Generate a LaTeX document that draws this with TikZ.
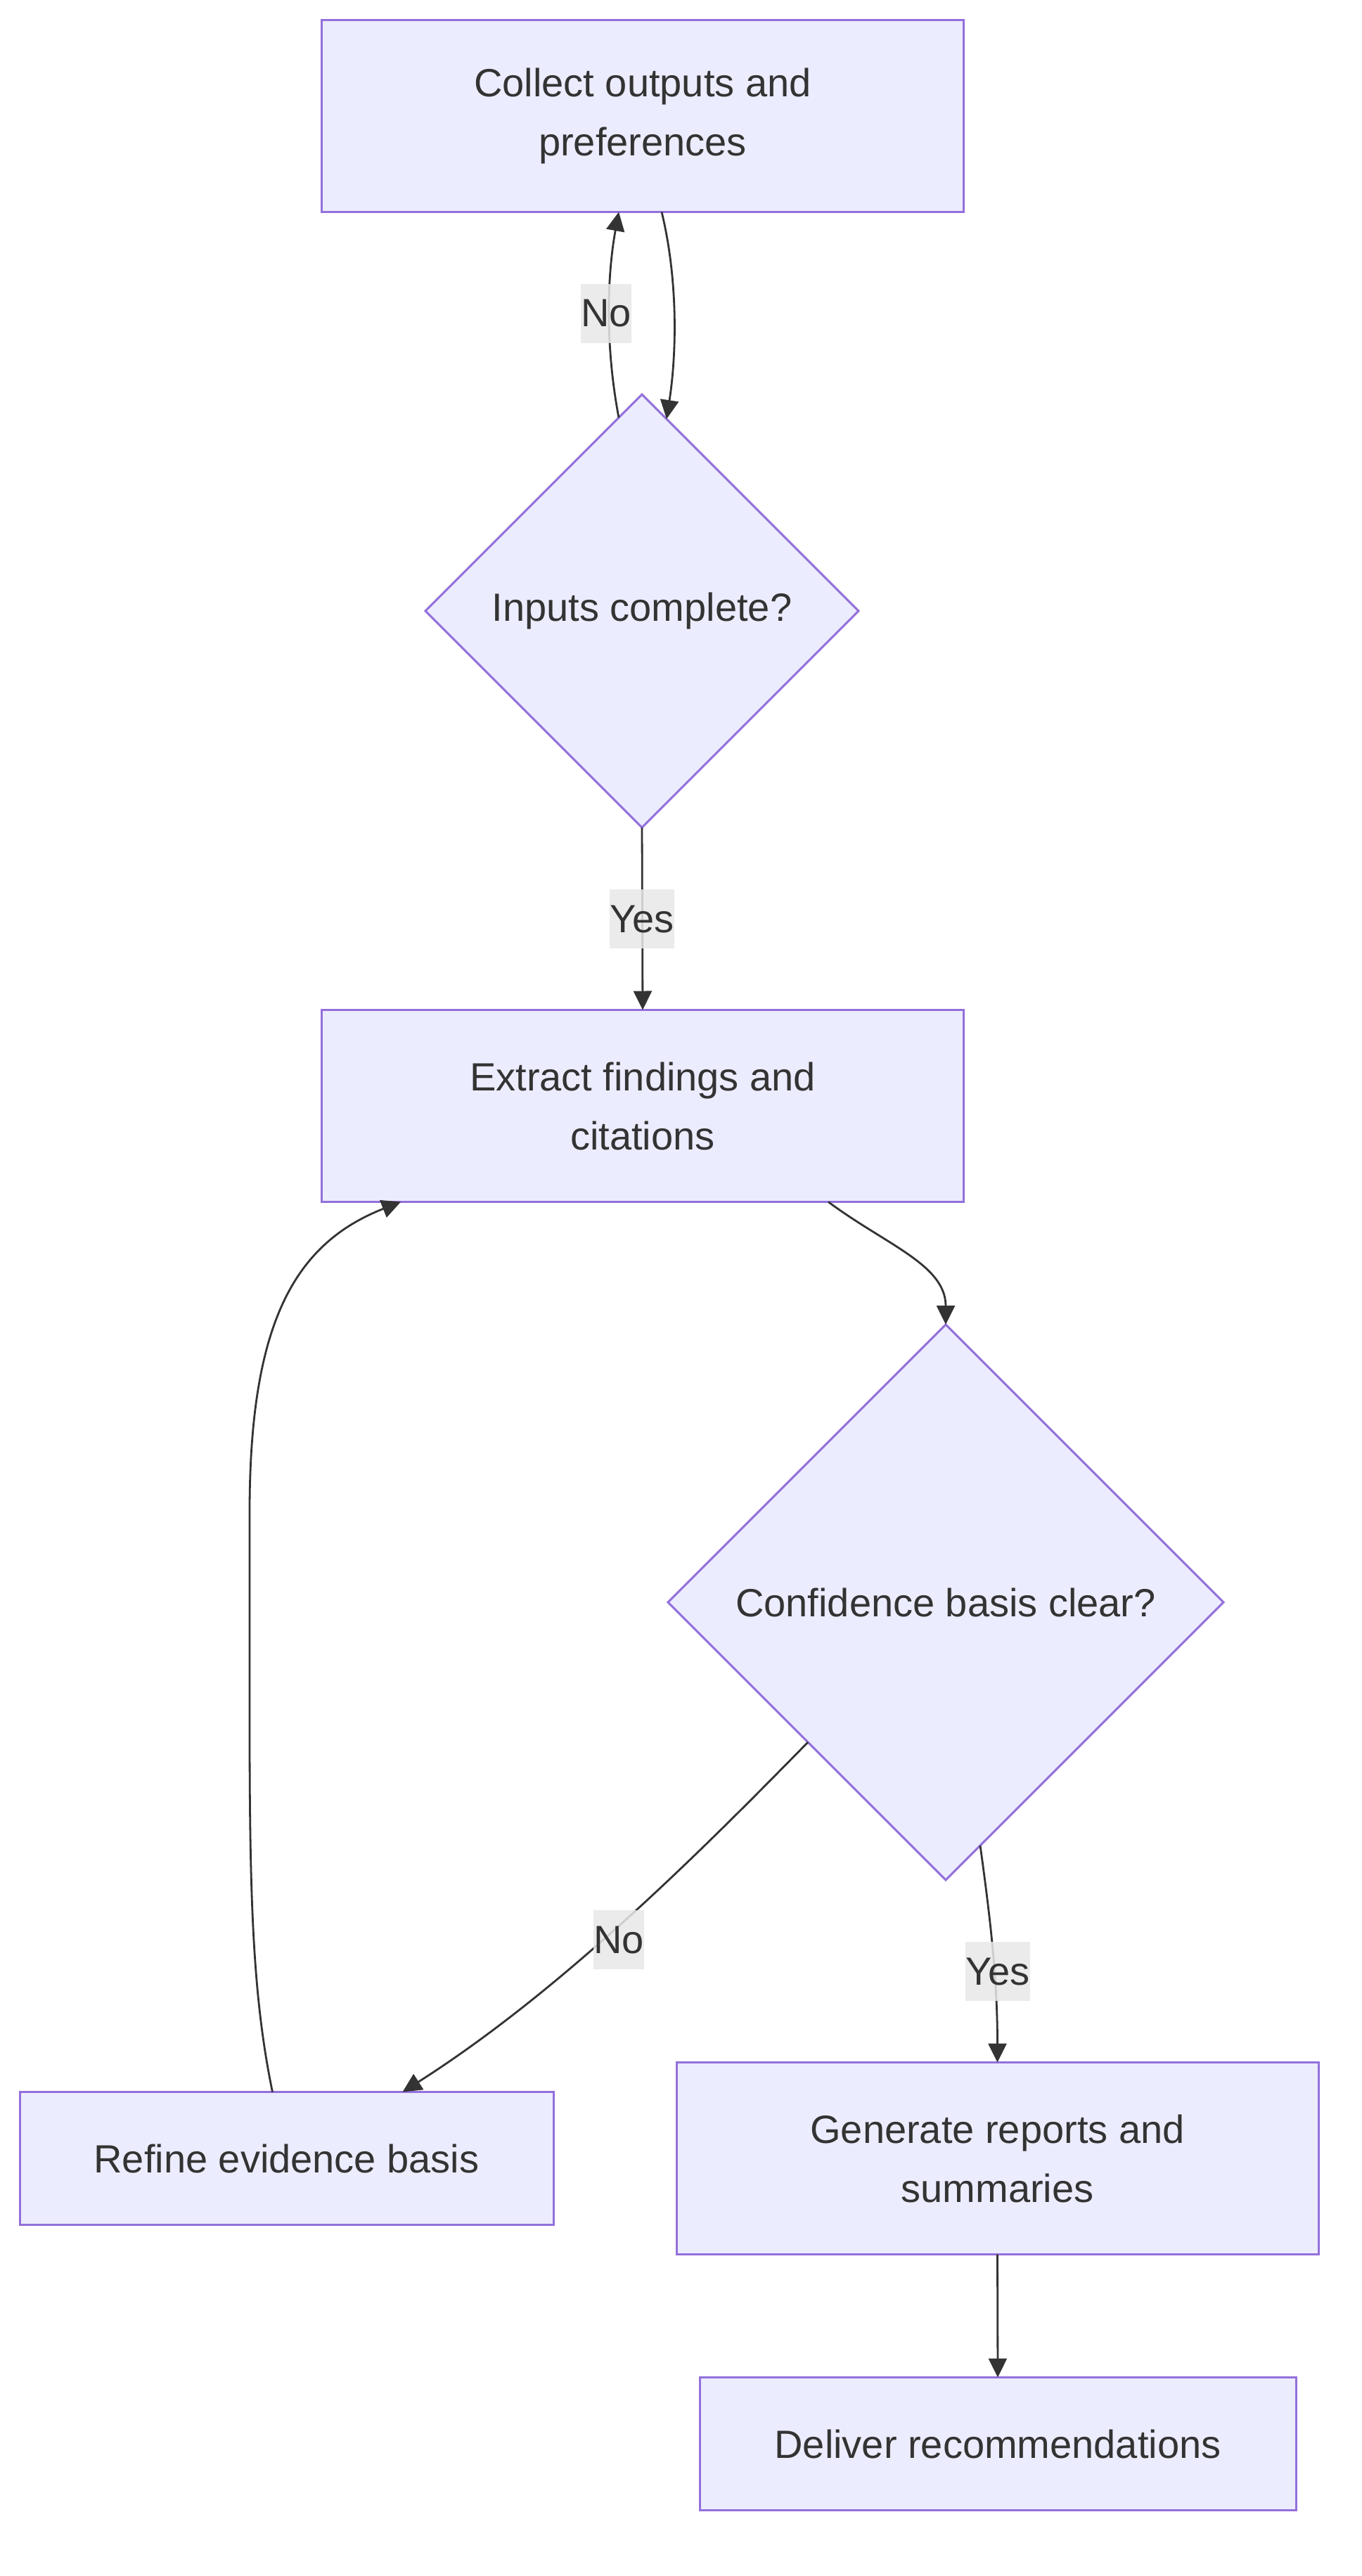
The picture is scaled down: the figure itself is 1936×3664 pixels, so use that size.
\documentclass[tikz,border=0pt]{standalone}
\usepackage{fontspec}
\setmainfont{Liberation Sans}
\usetikzlibrary{arrows.meta,shapes.geometric}
\definecolor{nodefill}{HTML}{ECECFF}
\definecolor{nodeline}{HTML}{9370DB}
\definecolor{ink}{HTML}{333333}
\definecolor{lblbg}{HTML}{E8E8E8}
\begin{document}
\begin{tikzpicture}[x=1pt,y=-1pt,
  every node/.style={font=\fontsize{56}{84}\selectfont, text=ink},
  box/.style={draw=nodeline, fill=nodefill, line width=3pt, rectangle, inner sep=0pt, outer sep=0pt, align=center},
  dec/.style={draw=nodeline, fill=nodefill, line width=3pt, diamond, aspect=1, inner sep=0pt, outer sep=0pt, align=center},
  conn/.style={draw=ink, line width=2.8pt, -{Triangle[length=27pt,width=26pt]}},
  lbl/.style={fill=lblbg, fill opacity=0.85, text opacity=1, inner sep=0pt, minimum height=84pt}]
\fill[white] (0,0) rectangle (1936,3664);
\useasboundingbox (0,0) rectangle (1936,3664);

\node[box, minimum width=913pt, minimum height=273pt] (b1) at (914,165) {Collect outputs and\\preferences};
\node[dec, minimum width=616pt, minimum height=616pt] (d1) at (913,869) {Inputs complete?};
\node[box, minimum width=913pt, minimum height=273pt] (b2) at (914,1573) {Extract findings and\\citations};
\node[dec, minimum width=790pt, minimum height=790pt] (d2) at (1345,2279) {Confidence basis clear?};
\node[box, minimum width=759pt, minimum height=189pt] (b3) at (407.5,3070) {Refine evidence basis};
\node[box, minimum width=913pt, minimum height=273pt] (b4) at (1418.5,3070) {Generate reports and\\summaries};
\node[box, minimum width=848pt, minimum height=189pt] (b5) at (1419,3476) {Deliver recommendations};

\coordinate (r1) at (355,2450);
\coordinate (r2) at (355,2150);

% Box1 -> D1
\draw[conn] ([xshift=27pt]b1.south) .. controls +(24,99) and +(14,-91) .. ([xshift=35pt,yshift=-35pt]d1.north);
% D1 -> Box1 (No)
\draw[conn] ([xshift=-33pt,yshift=-33pt]d1.north) .. controls +(-18,-94) and +(-18,99) .. ([xshift=-34pt]b1.south);
% D1 -> Box2 (Yes)
\draw[conn] (d1.south) -- (b2.north);
% Box2 -> D2
\draw[conn] ([xshift=264pt]b2.south) .. controls +(82,61) and +(0,-85) .. (d2.north);
% D2 -> Box3 (No)
\draw[conn] ([xshift=199pt,yshift=-199pt]d2.west) .. controls +(-149,152) and +(228,-145) .. ([xshift=165pt]b3.north);
% Box3 -> Box2
\draw[conn] ([xshift=-20pt]b3.north) .. controls +(-28,-135) and +(0,250) .. (r1) -- (r2) .. controls +(0,-270) and +(-150,59) .. ([xshift=-344pt]b2.south);
% D2 -> Box4 (Yes)
\draw[conn] ([xshift=49pt,yshift=49pt]d2.south) .. controls +(16,115) and +(0,-113) .. (b4.north);
% Box4 -> Box5
\draw[conn] (b4.south) -- (b5.north);

\node[lbl] (l1) at (862,446) {No};
\node[lbl] (l2) at (913,1307) {Yes};
\node[lbl] (l3) at (880,2759) {No};
\node[lbl] (l4) at (1419,2804) {Yes};
\end{tikzpicture}
\end{document}
